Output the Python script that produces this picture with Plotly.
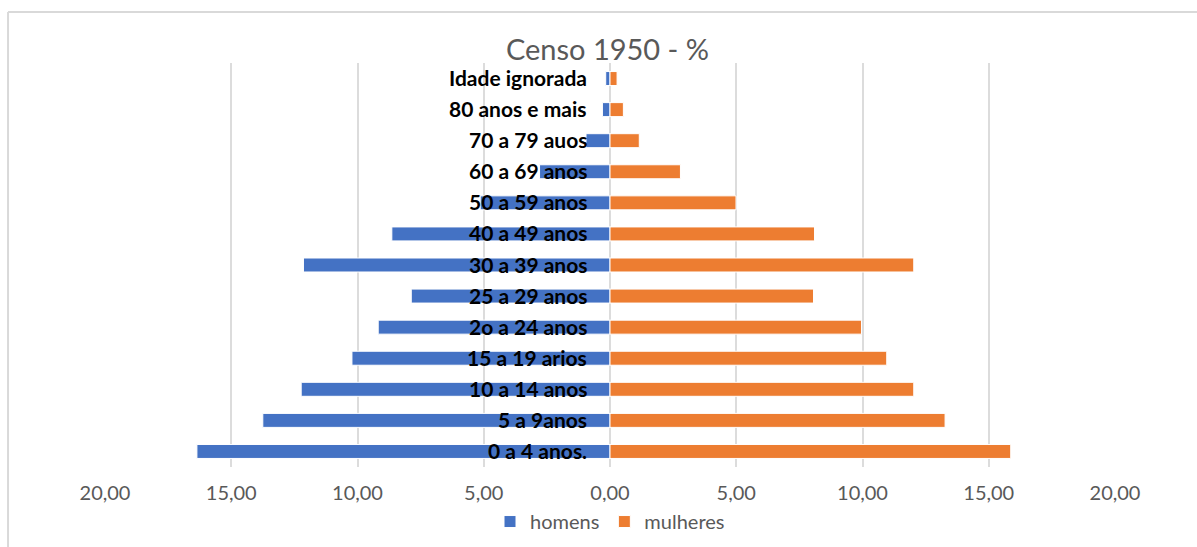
import plotly.graph_objects as go

# Faixas etárias (de baixo para cima)
faixas = [
    "0 a 4 anos.", "5 a 9anos", "10 a 14 anos", "15 a 19 arios", "2o a 24 anos",
    "25 a 29 anos", "30 a 39 anos", "40 a 49 anos", "50 a 59 anos", "60 a 69 anos",
    "70 a 79 auos", "80 anos e mais", "Idade ignorada",
]

# Percentual da população por sexo
homens = [16.36, 13.75, 12.23, 10.22, 9.18, 7.87, 12.14, 8.64, 5.14, 2.79, 0.95, 0.30, 0.17]
mulheres = [15.87, 13.27, 12.03, 10.96, 9.96, 8.06, 12.03, 8.10, 4.99, 2.79, 1.16, 0.53, 0.28]

# Eixo horizontal: valores absolutos dos dois lados
tick_vals = [-20, -15, -10, -5, 0, 5, 10, 15, 20]
tick_text = ["20,00", "15,00", "10,00", "5,00", "0,00", "5,00", "10,00", "15,00", "20,00"]

AZUL = "#4472C4"
LARANJA = "#ED7D31"
CINZA = "#595959"
FONTE = "Lato, 'Open Sans', sans-serif"

fig = go.Figure()
fig.add_trace(go.Bar(
    y=faixas, x=[-v for v in homens], customdata=homens, name="homens",
    orientation="h", marker=dict(color=AZUL, line=dict(color="white", width=1)),
    hovertemplate="%{y}: %{customdata:.2f}<extra>homens</extra>",
))
fig.add_trace(go.Bar(
    y=faixas, x=mulheres, name="mulheres",
    orientation="h", marker=dict(color=LARANJA, line=dict(color="white", width=1)),
    hovertemplate="%{y}: %{x:.2f}<extra>mulheres</extra>",
))

# Rótulos das faixas junto ao eixo central
annotations = [
    dict(x=0, y=f, xref="x", yref="y", text=f"<b>{f}</b>", showarrow=False,
         xanchor="right", yanchor="middle", xshift=-21, yshift=1,
         font=dict(family=FONTE, size=21, color="black"))
    for f in faixas
]

# Moldura do gráfico (linhas superior e esquerda)
shapes = [
    dict(type="line", xref="paper", yref="paper", x0=-0.096, x1=1.09, y0=1.1262, y1=1.1262,
         line=dict(color="#d9d9d9", width=2)),
    dict(type="line", xref="paper", yref="paper", x0=-0.096, x1=-0.096, y0=1.1262, y1=-0.21,
         line=dict(color="#d9d9d9", width=2)),
]

fig.update_layout(
    width=1197, height=547,
    margin=dict(l=105, r=82, t=63, b=80, autoexpand=False),
    paper_bgcolor="white", plot_bgcolor="white",
    barmode="overlay", bargap=0.55,
    title=dict(text="Censo 1950 - %", x=0.5075, xanchor="center", y=0.908, yanchor="middle",
               yref="container", font=dict(family=FONTE, size=29, color=CINZA)),
    xaxis=dict(range=[-20, 20], tickvals=tick_vals, ticktext=tick_text,
               showgrid=True, gridcolor="#dcdcdc", gridwidth=2,
               zeroline=True, zerolinecolor="#dcdcdc", zerolinewidth=2,
               showline=False, ticks="", ticklabelstandoff=12,
               tickfont=dict(family=FONTE, size=20, color=CINZA), fixedrange=True),
    yaxis=dict(categoryorder="array", categoryarray=faixas, showticklabels=False,
               showgrid=False, zeroline=False, showline=False, ticks="", fixedrange=True),
    legend=dict(orientation="h", x=0.5, xanchor="center", y=-0.135, yanchor="middle",
                font=dict(family=FONTE, size=20, color=CINZA), traceorder="normal"),
    annotations=annotations,
    shapes=shapes,
)

fig.write_html("out.html")
